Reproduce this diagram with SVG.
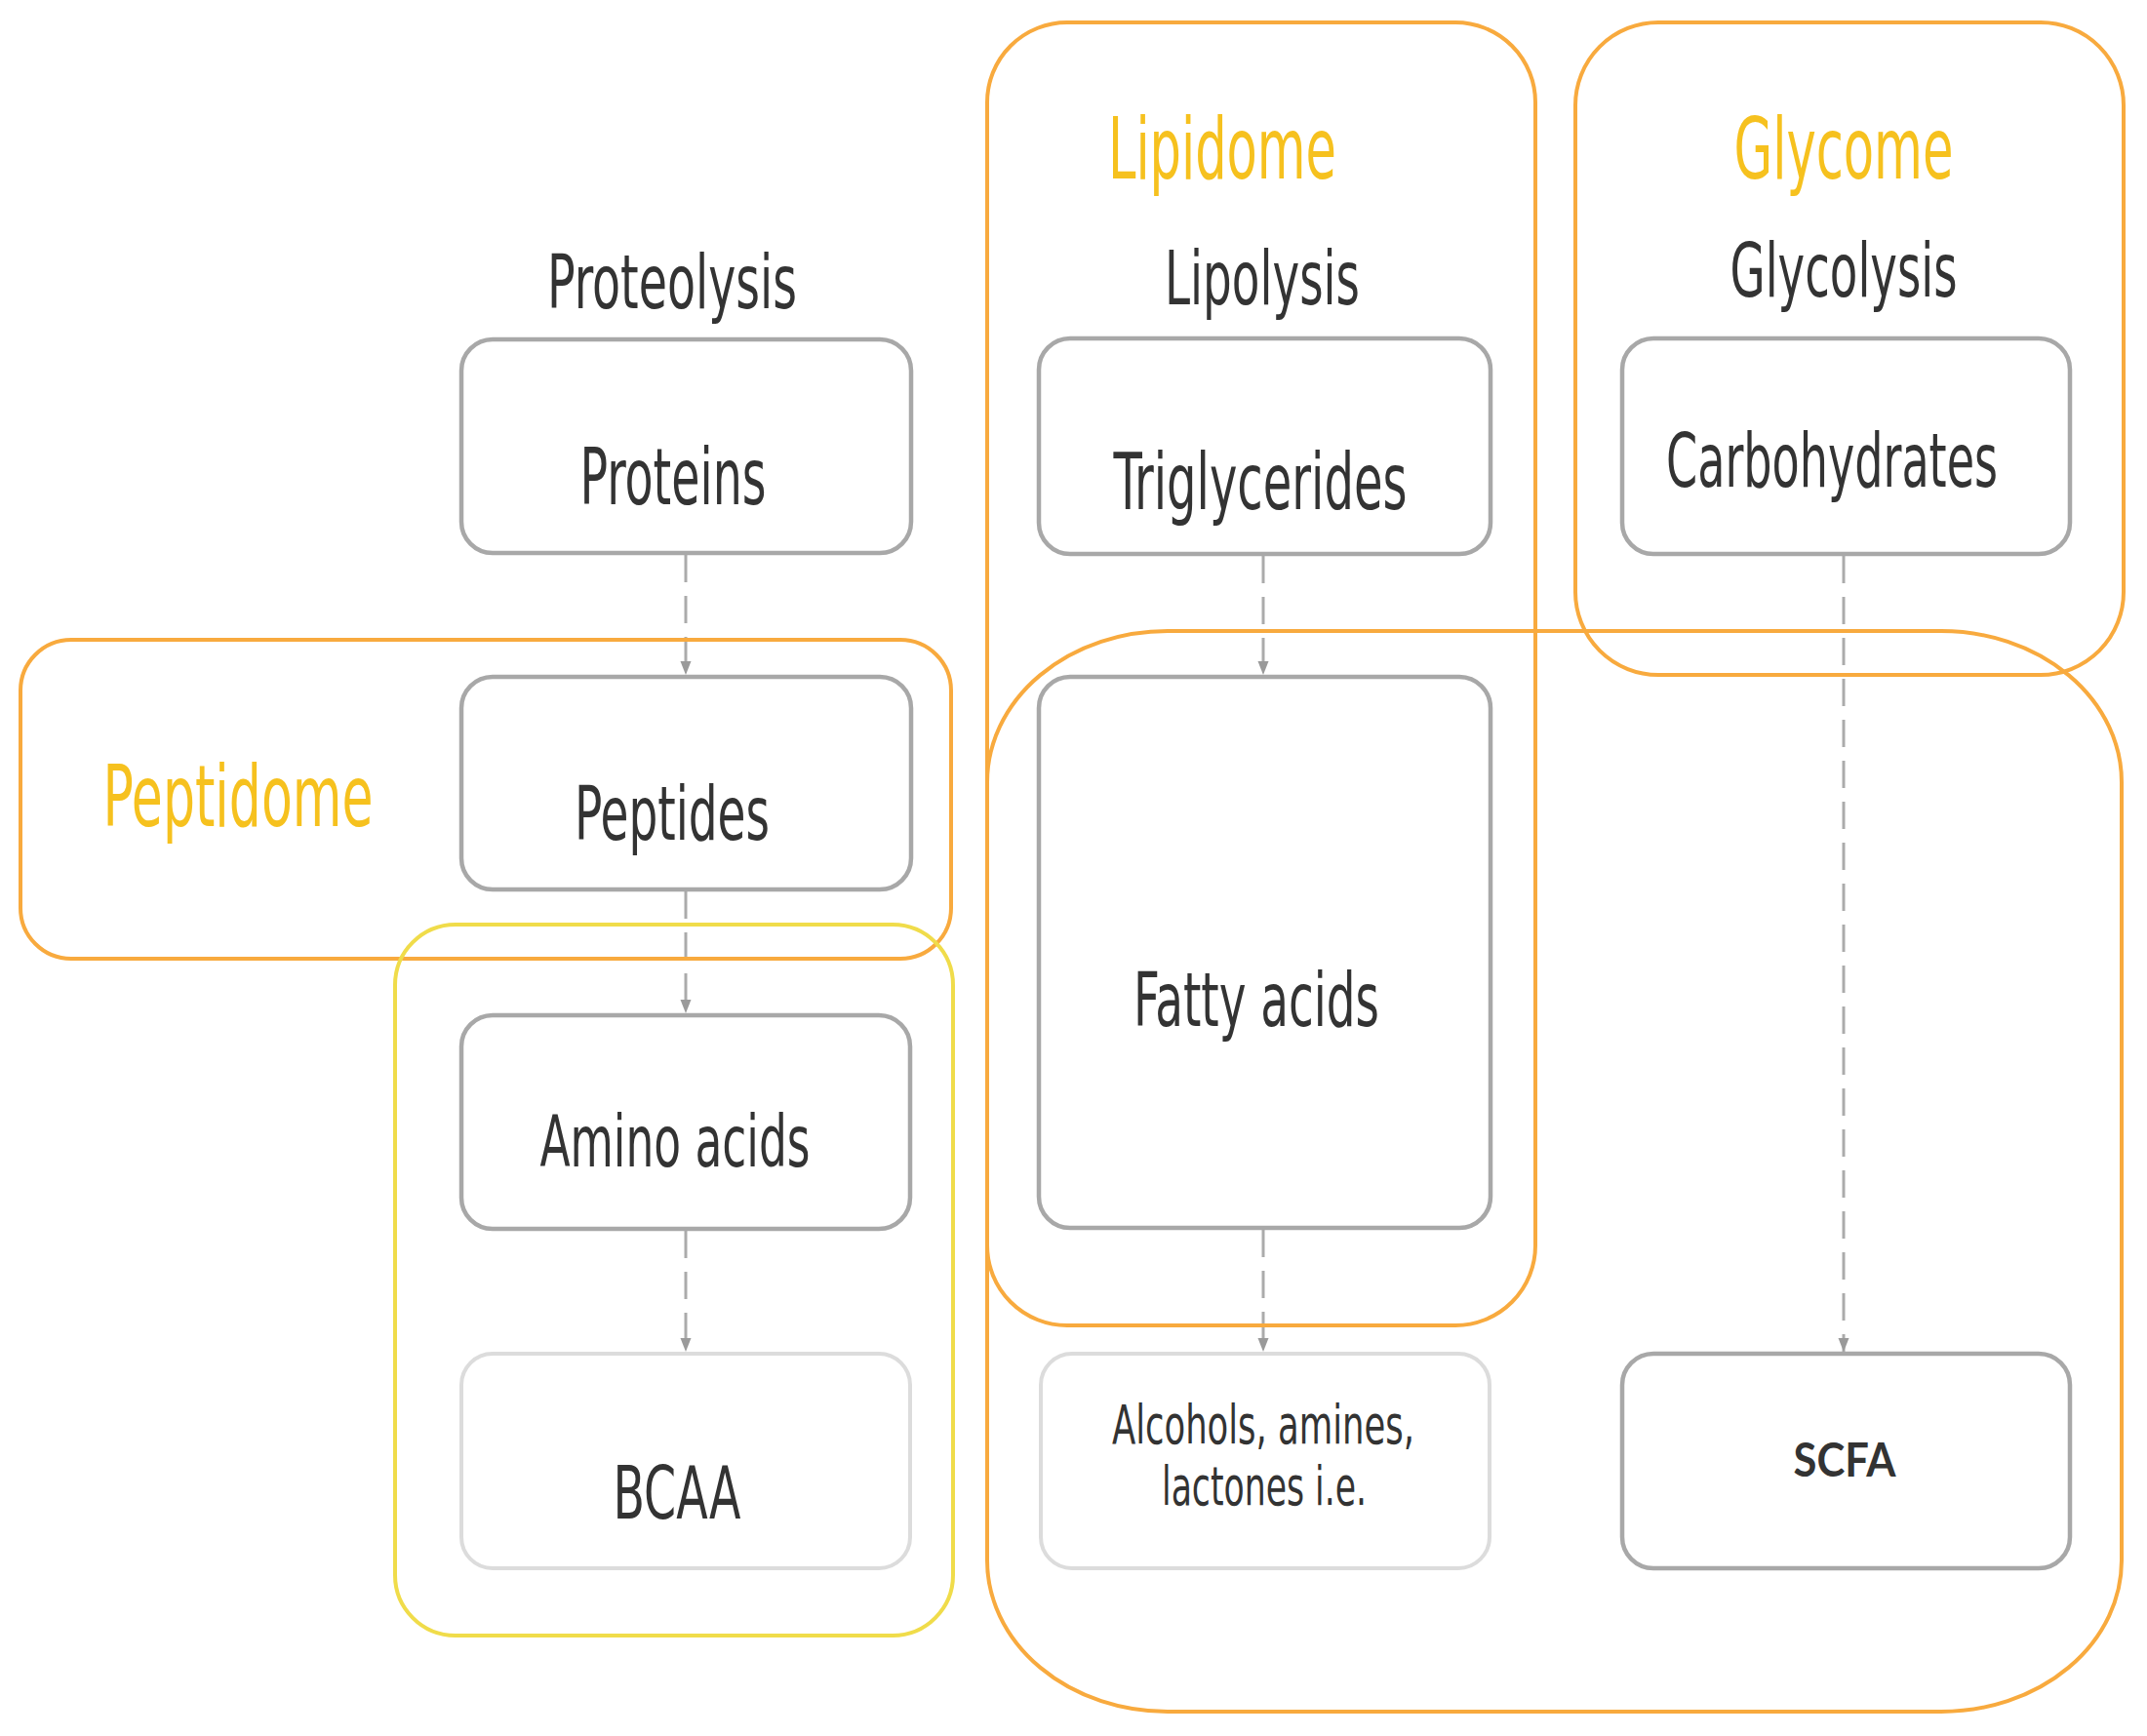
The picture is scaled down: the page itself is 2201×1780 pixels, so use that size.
<svg xmlns="http://www.w3.org/2000/svg" width="2201" height="1780" viewBox="0 0 2201 1780">
<defs>
<style>
.grp{fill:none;stroke:#F8AA3E;stroke-width:4}
.ylw{fill:none;stroke:#F0DC4A;stroke-width:4}
.node{fill:#fff;stroke:#A8A8A8;stroke-width:4.5}
.light{fill:#fff;stroke:#DCDCDC;stroke-width:4}
.t{font-family:"Liberation Sans Narrow","DejaVu Sans Condensed","Liberation Sans",sans-serif;fill:#333;text-anchor:middle}
.h{font-family:"Liberation Sans Narrow","DejaVu Sans Condensed","Liberation Sans",sans-serif;fill:#F6C11E;text-anchor:middle}
.s{font-family:Lato,"Liberation Sans",sans-serif;font-weight:700;fill:#333;text-anchor:middle}
.c{fill:none;stroke:#ABABAB;stroke-width:3;stroke-dasharray:28 14}
</style>
<marker id="ah" markerUnits="userSpaceOnUse" markerWidth="16" markerHeight="14" refX="15" refY="7" orient="auto" viewBox="0 0 16 14">
<path d="M1,1.5 L15,7 L1,12.5 Z" fill="#9A9A9A"/>
</marker>
</defs>
<rect width="2201" height="1780" fill="#fff"/>

<g id="connectors">
<line class="c" x1="703" y1="569" x2="703" y2="692" marker-end="url(#ah)"/>
<line class="c" x1="703" y1="914" x2="703" y2="1039" marker-end="url(#ah)"/>
<line class="c" x1="703" y1="1262" x2="703" y2="1386" marker-end="url(#ah)"/>
<line class="c" x1="1295" y1="570" x2="1295" y2="692" marker-end="url(#ah)"/>
<line class="c" x1="1295" y1="1261" x2="1295" y2="1386" marker-end="url(#ah)"/>
<line class="c" x1="1890" y1="570" x2="1890" y2="1386" marker-end="url(#ah)"/>
</g>

<g id="peptidome-group">
<rect class="grp" x="21" y="656" width="954" height="327" rx="52" ry="52"/>
<text class="h" x="244" y="847" font-size="88" textLength="277" lengthAdjust="spacingAndGlyphs">Peptidome</text>
</g>
<g id="aminoacid-group">
<rect class="ylw" x="405" y="948" width="572" height="729" rx="62" ry="62"/>
</g>
<g id="lipidome-group">
<rect class="grp" x="1012" y="23" width="562" height="1336" rx="82" ry="82"/>
<text class="h" x="1253" y="183" font-size="87" textLength="234" lengthAdjust="spacingAndGlyphs">Lipidome</text>
</g>
<g id="glycome-group">
<rect class="grp" x="1615" y="23" width="562" height="669" rx="85" ry="85"/>
<text class="h" x="1890" y="183" font-size="87" textLength="225" lengthAdjust="spacingAndGlyphs">Glycome</text>
</g>
<g id="metabolite-group">
<rect class="grp" x="1012" y="647" width="1163" height="1108" rx="185" ry="155"/>
</g>

<g id="proteolysis-label">
<text class="t" x="689" y="316" font-size="77" textLength="256" lengthAdjust="spacingAndGlyphs">Proteolysis</text>
</g>
<g id="lipolysis-label">
<text class="t" x="1294" y="312" font-size="76" textLength="200" lengthAdjust="spacingAndGlyphs">Lipolysis</text>
</g>
<g id="glycolysis-label">
<text class="t" x="1890" y="304" font-size="76" textLength="233" lengthAdjust="spacingAndGlyphs">Glycolysis</text>
</g>

<g id="proteins">
<rect class="node" x="473" y="348" width="461" height="219" rx="32" ry="32"/>
<text class="t" x="690" y="517" font-size="81" textLength="191" lengthAdjust="spacingAndGlyphs">Proteins</text>
</g>
<g id="peptides">
<rect class="node" x="473" y="694" width="461" height="218" rx="32" ry="32"/>
<text class="t" x="689" y="861" font-size="77" textLength="200" lengthAdjust="spacingAndGlyphs">Peptides</text>
</g>
<g id="amino-acids">
<rect class="node" x="473" y="1041" width="460" height="219" rx="32" ry="32"/>
<text class="t" x="692" y="1196" font-size="73" textLength="277" lengthAdjust="spacingAndGlyphs">Amino acids</text>
</g>
<g id="bcaa">
<rect class="light" x="473" y="1388" width="460" height="220" rx="32" ry="32"/>
<text class="t" x="694" y="1557" font-size="75" textLength="131" lengthAdjust="spacingAndGlyphs">BCAA</text>
</g>
<g id="triglycerides">
<rect class="node" x="1065" y="347" width="463" height="221" rx="32" ry="32"/>
<text class="t" x="1292" y="522" font-size="80" textLength="301" lengthAdjust="spacingAndGlyphs">Triglycerides</text>
</g>
<g id="fatty-acids">
<rect class="node" x="1065" y="694" width="463" height="565" rx="32" ry="32"/>
<text class="t" x="1288" y="1052" font-size="76" textLength="252" lengthAdjust="spacingAndGlyphs">Fatty acids</text>
</g>
<g id="alcohols">
<rect class="light" x="1067" y="1388" width="460" height="220" rx="32" ry="32"/>
<text class="t" x="1295" y="1480" font-size="56" textLength="310" lengthAdjust="spacingAndGlyphs">Alcohols, amines,</text>
<text class="t" x="1296" y="1543" font-size="56" textLength="210" lengthAdjust="spacingAndGlyphs">lactones i.e.</text>
</g>
<g id="carbohydrates">
<rect class="node" x="1663" y="347" width="459" height="221" rx="32" ry="32"/>
<text class="t" x="1878" y="499" font-size="76" textLength="340" lengthAdjust="spacingAndGlyphs">Carbohydrates</text>
</g>
<g id="scfa">
<rect class="node" x="1663" y="1388" width="459" height="220" rx="32" ry="32"/>
<text class="s" x="1891" y="1514" font-size="48" textLength="105" lengthAdjust="spacingAndGlyphs">SCFA</text>
</g>
</svg>
